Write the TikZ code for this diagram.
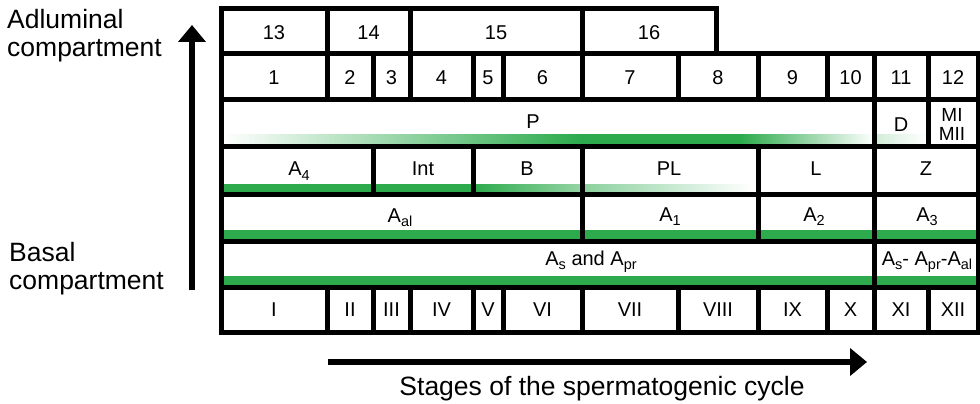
\documentclass[tikz,border=0pt]{standalone}
\usepackage{fontspec}
\setmainfont{Liberation Sans}
\usetikzlibrary{arrows.meta}
\definecolor{cellgreen}{RGB}{44,170,76}
% lowered, smaller index used in the cell names (A_s, A_pr, ...)
\newcommand\lowsub[1]{\raisebox{-4.5pt}{\fontsize{14.5}{14.5}\selectfont #1}}

\begin{document}
\begin{tikzpicture}[x=1pt, y=-1pt,
  gridline/.style={line width=5pt, line join=miter},
  celltext/.style={font=\fontsize{20}{22}\selectfont, inner sep=0pt, anchor=base},
  smalltext/.style={font=\fontsize{19}{19}\selectfont, inner sep=0pt, anchor=base},
  sidetext/.style={font=\fontsize{26.5}{28}\selectfont, inner sep=0pt, anchor=base west},
  axisarrow/.style={line width=5.5pt, -{Triangle[length=17pt,width=27pt]}},
]
\useasboundingbox (0,0) rectangle (980,404);

% ---- green bars along the bottom of the cells (under the grid) ----
% P / D row
\shade[left color=white, right color=cellgreen] (222,134) rectangle (580,146);
\fill[cellgreen] (580,134) rectangle (740,146);
\shade[left color=cellgreen, right color=white] (740,134) rectangle (874,146);
\shade[left color=cellgreen!22, right color=white] (874,134) rectangle (926,146);
% A4 / Int / B / PL row
\fill[cellgreen] (221,184) rectangle (473,194);
\shade[left color=cellgreen, right color=cellgreen!50] (473,184) rectangle (582,194);
\shade[left color=cellgreen!55, right color=white] (582,184) rectangle (752,194);
% A_al / A1 / A2 / A3 row
\fill[cellgreen] (221,230) rectangle (978,241);
% A_s and A_pr row
\fill[cellgreen] (221,276) rectangle (978,287);

% ---- top row (13-16) ----
\foreach \a/\b/\t/\n in {221/327/13/c13, 327/410/14/c14, 410/582/15/c15, 582/716/16/c16}{
  \draw[gridline] (\a,9) rectangle (\b,54);
  \node[celltext] (\n) at ({(\a+\b)/2},40) {\t};
}

% ---- numbered row (1-12) ----
\foreach \a/\b/\t [count=\i] in {221/327/1, 327/373/2, 373/410/3, 410/473/4,
    473/503/5, 503/582/6, 582/678/7, 678/758/8, 758/827/9, 827/874/10,
    874/928/11, 928/978/12}{
  \draw[gridline] (\a,54) rectangle (\b,99);
  \node[celltext] (num\i) at ({(\a+\b)/2},84.5) {\t};
}

% ---- P / D / MI-MII row ----
\draw[gridline] (221,99) rectangle (874,146);
\draw[gridline] (874,99) rectangle (928,146);
\draw[gridline] (928,99) rectangle (978,146);
\node[celltext] (lblP) at (533,128) {P};
\node[celltext] (lblD) at (901,131.5) {D};
\node[smalltext] (lblMI) at (952,121.7) {MI};
\node[smalltext] (lblMII) at (952,140.7) {MII};

% ---- A4 / Int / B / PL / L / Z row ----
\foreach \a/\b in {221/373, 373/473, 473/582, 582/758, 758/874, 874/978}{
  \draw[gridline] (\a,146) rectangle (\b,194);
}
\node[celltext] (lblA4) at (299,175.5) {A\lowsub{4}};
\node[celltext] (lblInt) at (423,175.5) {Int};
\node[celltext] (lblB) at (527,175.5) {B};
\node[celltext] (lblPL) at (669,175.5) {PL};
\node[celltext] (lblL) at (816,175.5) {L};
\node[celltext] (lblZ) at (926,175.5) {Z};

% ---- A_al / A1 / A2 / A3 row ----
\foreach \a/\b in {221/582, 582/758, 758/874, 874/978}{
  \draw[gridline] (\a,194) rectangle (\b,241);
}
\node[celltext] (lblAal) at (400,222) {A\lowsub{al}};
\node[celltext] (lblA1) at (670,221) {A\lowsub{1}};
\node[celltext] (lblA2) at (814,221) {A\lowsub{2}};
\node[celltext] (lblA3) at (927,221) {A\lowsub{3}};

% ---- A_s and A_pr row ----
\draw[gridline] (221,241) rectangle (874,287);
\draw[gridline] (874,241) rectangle (978,287);
\node[celltext] (lblAs) at (591,265) {A\lowsub{s} and A\lowsub{pr}};
\node[celltext] (lblAsAl) at (927,265) {A\lowsub{s}- A\lowsub{pr}-A\lowsub{al}};

% ---- stage row (I-XII) ----
\foreach \a/\b/\t [count=\i] in {221/327/I, 327/373/II, 373/410/III, 410/473/IV,
    473/503/V, 503/582/VI, 582/678/VII, 678/758/VIII, 758/827/IX, 827/874/X,
    874/928/XI, 928/978/XII}{
  \draw[gridline] (\a,287) rectangle (\b,332);
  \node[celltext] (stage\i) at ({(\a+\b)/2},316.5) {\t};
}

% ---- compartment axis ----
\node[sidetext] (adl1) at (7,29) {Adluminal};
\node[sidetext] (adl2) at (7,57) {compartment};
\node[sidetext] (bas1) at (9,261) {Basal};
\node[sidetext] (bas2) at (9,289) {compartment};
\coordinate (vaxisbot) at (192,290);
\coordinate (vaxistop) at (192,25);
\draw[axisarrow] (vaxisbot) -- (vaxistop);

% ---- stage axis ----
\coordinate (haxisstart) at (328,362);
\coordinate (haxisend) at (867,362);
\draw[axisarrow] (haxisstart) -- (haxisend);
\node[font=\fontsize{26.5}{28}\selectfont, inner sep=0pt, anchor=base] (caption)
  at (602,395) {Stages of the spermatogenic cycle};
\end{tikzpicture}
\end{document}
